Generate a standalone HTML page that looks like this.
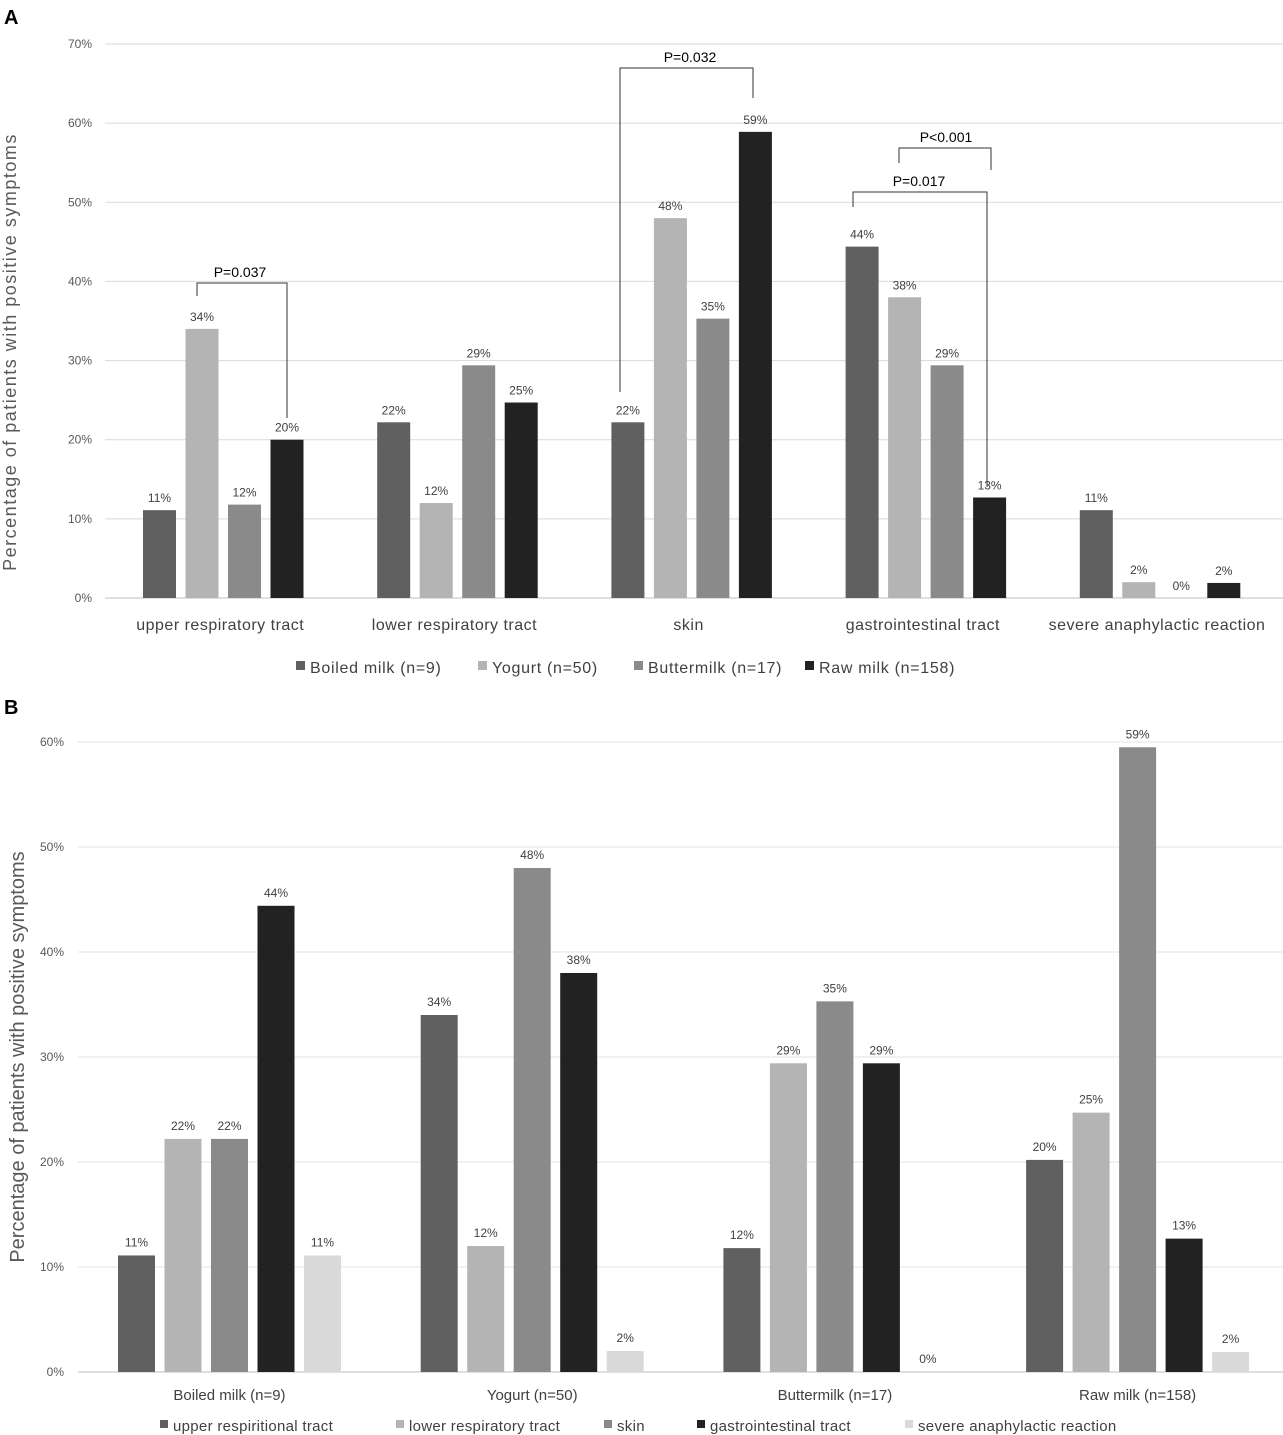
<!DOCTYPE html>
<html><head><meta charset="utf-8"><style>
body{margin:0;background:#fff;}
svg{display:block;font-family:"Liberation Sans","DejaVu Sans",sans-serif;}
</style></head><body>
<svg id="s" width="1283" height="1435" viewBox="0 0 1283 1435" xmlns="http://www.w3.org/2000/svg"></svg>
<script>
// Chart A data
const catsA = ["upper respiratory tract","lower respiratory tract","skin","gastrointestinal tract","severe anaphylactic reaction"];
const seriesA = ["Boiled milk (n=9)","Yogurt (n=50)","Buttermilk (n=17)","Raw milk (n=158)"];
const boiledA = [11.1,22.2,22.2,44.4,11.1];
const yogurtA = [34,12,48,38,2];
const butterA = [11.8,29.4,35.3,29.4,0];
const rawA = [20,24.7,58.9,12.7,1.9];
const labelsA = [["11%","22%","22%","44%","11%"],["34%","12%","48%","38%","2%"],["12%","29%","35%","29%","0%"],["20%","25%","59%","13%","2%"]];
const ticksA = [0,10,20,30,40,50,60,70];
// Chart B data
const catsB = ["Boiled milk (n=9)","Yogurt (n=50)","Buttermilk (n=17)","Raw milk (n=158)"];
const seriesB = ["upper respiritional tract","lower respiratory tract","skin","gastrointestinal tract","severe anaphylactic reaction"];
const upperB = [11.1,34,11.8,20.2];
const lowerB = [22.2,12,29.4,24.7];
const skinB = [22.2,48,35.3,59.5];
const giB = [44.4,38,29.4,12.7];
const severeB = [11.1,2,0,1.9];
const labelsB = [["11%","34%","12%","20%"],["22%","12%","29%","25%"],["22%","48%","35%","59%"],["44%","38%","29%","13%"],["11%","2%","0%","2%"]];
const ticksB = [0,10,20,30,40,50,60];

const NS="http://www.w3.org/2000/svg";
const svg=document.getElementById('s');
function mk(tag,attrs,parent){const e=document.createElementNS(NS,tag);for(const k in attrs)e.setAttribute(k,attrs[k]);(parent||svg).appendChild(e);return e;}
function txt(x,y,s,size,anchor,fill,weight,parent){const t=mk('text',{x:x,y:y,'font-size':size,'text-anchor':anchor||'middle',fill:fill||'#333','font-weight':weight||'normal'},parent);t.textContent=s;return t;}

// ===== Chart A =====
const gA=mk('g',{});


const yA=v=>598-v*(554/70);
const xA0=105,xA1=1283,groupA=234.2;
const bwA=33,stepA=42.5;
const bxA=(i,s)=>143+groupA*i+stepA*s;
const cxA=i=>bxA(i,0)+(3*stepA+bwA)/2-3;
ticksA.forEach(t=>{
  const l=mk('line',{x1:xA0,x2:xA1,y1:yA(t),y2:yA(t),stroke:t===0?'#bfbfbf':'#d9d9d9','stroke-width':1},gA);
  
  
  const tl=txt(92,yA(t)+4,t+'%',12,'end','#595959','normal',gA);
  
  
});
const colsA=['#5f605f','#b3b4b3','#8a8a8a','#222222'];
const valsA=[boiledA,yogurtA,butterA,rawA];
catsA.forEach((c,i)=>{
  valsA.forEach((arr,s)=>{
    const r=mk('rect',{x:bxA(i,s),y:yA(arr[i]),width:bwA,height:yA(0)-yA(arr[i]),fill:colsA[s]},gA);
    
    
    const lt=txt(bxA(i,s)+bwA/2,yA(arr[i])-8,labelsA[s][i],12,'middle','#404040','normal',gA);
    
    
  });
  const ct=txt(cxA(i),630,c,16,'middle','#404040','normal',gA);
  ct.setAttribute('letter-spacing','0.5');
  
  
});
const yt=txt(0,0,'Percentage of patients with positive symptoms',18,'middle','#595959','normal',gA);
yt.setAttribute('transform','translate(16,352) rotate(-90)');
yt.setAttribute('letter-spacing','1.5');


const pa=txt(4,24,'A',20,'start','#000','bold',gA);


function bracket(x1,y1a,x2,y2a,top,label,lx){
  const p=mk('path',{d:`M${x1},${y1a} V${top} H${x2} V${y2a}`,fill:'none',stroke:'#333','stroke-width':1},gA);
  
  
  const t=txt(lx,top-6,label,14,'middle','#000','normal',gA);
  
  
}
bracket(197,296,287,418,283,'P=0.037',240);
bracket(620,392,753,98,68,'P=0.032',690);
bracket(899,163,991,170,148,'P<0.001',946);
bracket(853,207,987,487,192,'P=0.017',919);
const legXA=[296,478,634,805];
seriesA.forEach((s,k)=>{
  const r=mk('rect',{x:legXA[k],y:661,width:9,height:9,fill:colsA[k]},gA);
  
  
  const t=txt(legXA[k]+14,673,s,16,'start','#404040','normal',gA);
  t.setAttribute('letter-spacing','0.7');
  
  
});

// ===== Chart B =====
const gB=mk('g',{});


const yB=v=>1372-v*(630/60);
const xB0=78,xB1=1283,groupB=302.7;
const bwB=37,stepB=46.5;
const bxB=(i,s)=>118+groupB*i+stepB*s;
const cxB=i=>bxB(i,2)+bwB/2;
ticksB.forEach(t=>{
  const l=mk('line',{x1:xB0,x2:xB1,y1:yB(t),y2:yB(t),stroke:t===0?'#bfbfbf':'#e3e3e3','stroke-width':1},gB);
  
  
  const tl=txt(64,yB(t)+4,t+'%',12,'end','#595959','normal',gB);
  
  
});
const colsB=['#5f605f','#b3b4b3','#8a8a8a','#222222','#d9d9d9'];
const valsB=[upperB,lowerB,skinB,giB,severeB];
catsB.forEach((c,i)=>{
  valsB.forEach((arr,s)=>{
    const r=mk('rect',{x:bxB(i,s),y:yB(arr[i]),width:bwB,height:yB(0)-yB(arr[i]),fill:colsB[s]},gB);
    
    
    const lt=txt(bxB(i,s)+bwB/2,yB(arr[i])-9,labelsB[s][i],12,'middle','#404040','normal',gB);
    
    
  });
  const ct=txt(cxB(i),1400,c,15,'middle','#404040','normal',gB);
  
  
});
const ytb=txt(0,0,'Percentage of patients with positive symptoms',20,'middle','#595959','normal',gB);
ytb.setAttribute('transform','translate(24,1057) rotate(-90)');


const pb=txt(4,714,'B',20,'start','#000','bold',gB);


const legXB=[160,396,604,697,905];
seriesB.forEach((s,k)=>{
  const r=mk('rect',{x:legXB[k],y:1420,width:8,height:8,fill:colsB[k]},gB);
  
  
  const t=txt(legXB[k]+13,1431,s,15,'start','#404040','normal',gB);
  t.setAttribute('letter-spacing','0.3');
  
  
});
</script>
</body></html>
